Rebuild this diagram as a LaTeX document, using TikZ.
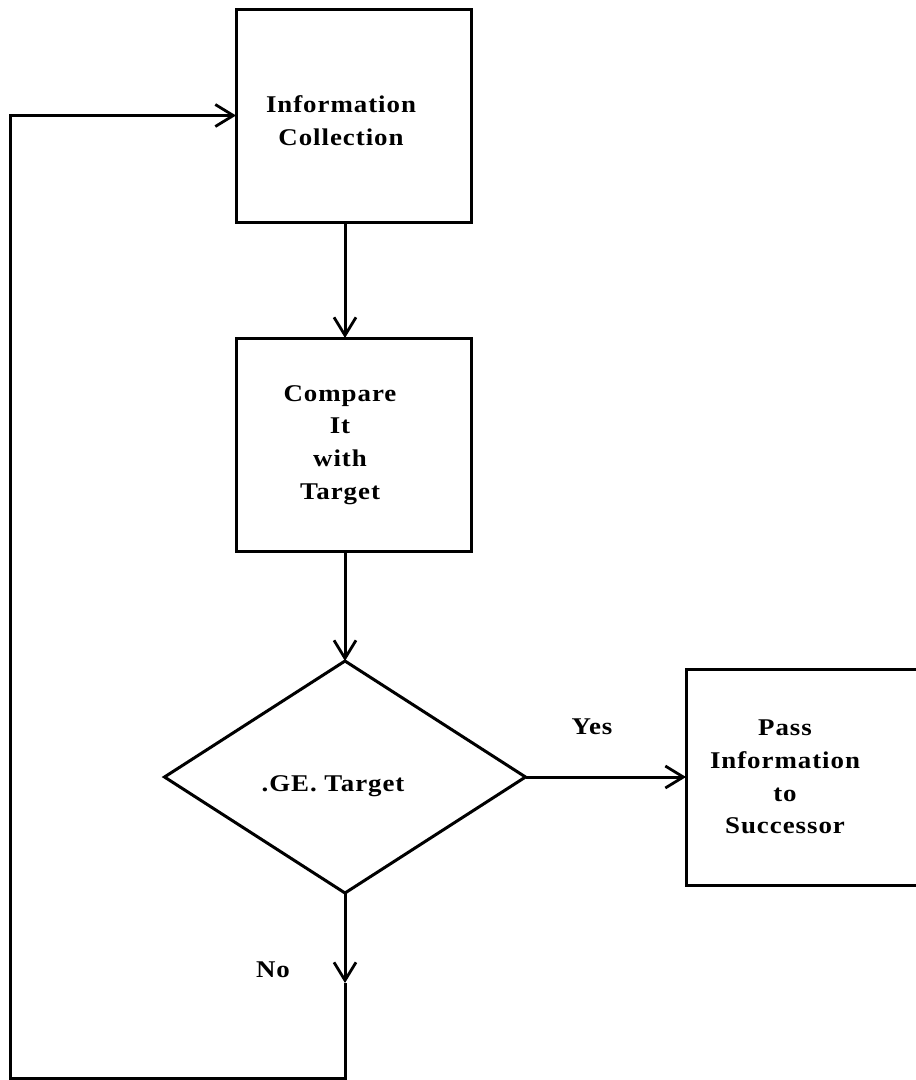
\documentclass[tikz,border=0pt]{standalone}
\usepackage{fontspec}
\setmainfont{Liberation Serif}
\newfontfamily\labelfont[FakeStretch=1.12,LetterSpace=4]{Liberation Serif}
\usetikzlibrary{arrows.meta,shapes.geometric}

\begin{document}
\begin{tikzpicture}[x=1pt,y=-1pt,
  line width=3pt,
  box/.style={draw,rectangle,inner sep=0pt,outer sep=0pt},
  decision/.style={draw,diamond,inner sep=0pt,outer sep=0pt},
  lbl/.style={align=center,inner sep=0pt,font=\labelfont\bfseries\fontsize{24}{32.7}\selectfont},
  arr/.style={-{Straight Barb[length=18pt,width=22pt,line width=2.8pt]}}]
  \useasboundingbox (0,0) rectangle (916,1080);

  % process boxes
  \node[box,minimum width=235pt,minimum height=213pt] (collect) at (353.5,115.5) {};
  \node[box,minimum width=235pt,minimum height=213pt] (compare) at (353.5,444.5) {};
  \node[decision,minimum width=361pt,minimum height=232pt] (test) at (345,777) {};
  \node[box,minimum width=270pt,minimum height=216pt] (pass) at (821,777) {};

  % box texts
  \node[lbl] (tcollect) at (341,121) {Information\\Collection};
  \node[lbl] (tcompare) at (340,445) {Compare\\It\\with\\Target};
  \node[lbl] (ttest) at (333,786) {.GE. Target};
  \node[lbl] (tpass) at (785,777) {Pass\\Information\\to\\Successor};

  % branch labels
  \node[lbl] (yes) at (592,727) {Yes};
  \node[lbl] (no) at (273,970) {No};

  % main flow
  \coordinate (spine) at (345,0);
  \draw[arr] (collect.south -| spine) -- (compare.north -| spine);
  \draw[arr] (compare.south -| spine) -- (test.north);
  \draw[arr] (test.east) -- (pass.west);

  % "No" branch loops back to the top
  \coordinate (notip) at (345,983);
  \coordinate (loopr) at (345,1078);
  \coordinate (loopl) at (10,1078);
  \draw[arr] (test.south) -- (notip);
  \draw[arr] (notip) -- (loopr) -- (loopl) |- (collect.west);
\end{tikzpicture}
\end{document}
